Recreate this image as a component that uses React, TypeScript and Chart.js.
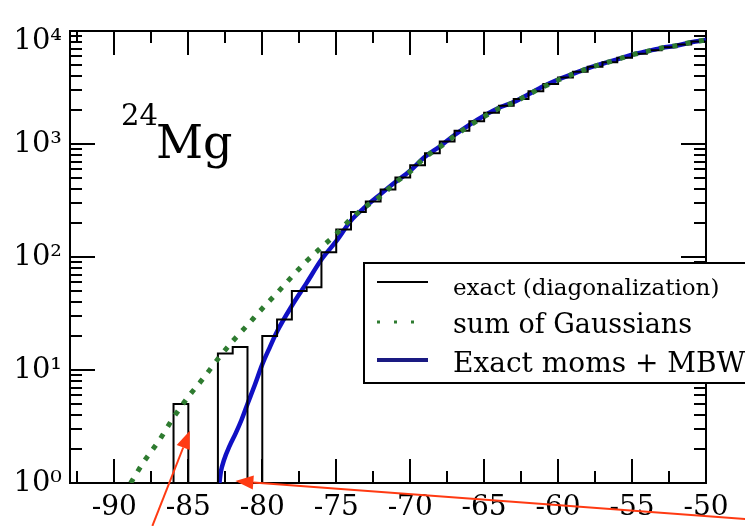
import React, { useEffect, useRef } from 'react';
import { Chart, registerables } from 'chart.js';

Chart.register(...registerables);

// ---- axes ----
const xMin = -93;
const xMax = -50;
const yMin = 1;
const yMax = 10000;
const xTickValues = [-90, -85, -80, -75, -70, -65, -60, -55, -50];
const yTickValues = [1, 10, 100, 1000, 10000];
const yTickLabels = ['10⁰', '10¹', '10²', '10³', '10⁴'];

// ---- exact (diagonalization): histogram, 1 MeV bins (left edges) ----
const histBinLeft = [
  -87, -86, -85, -84, -83, -82, -81, -80, -79, -78, -77, -76, -75, -74, -73, -72, -71, -70,
  -69, -68, -67, -66, -65, -64, -63, -62, -61, -60, -59, -58, -57, -56, -55, -54, -53, -52, -51,
];
const histCounts = [
  0, 5, 0, 0, 14, 16, 0, 20, 28, 50, 54, 110, 175, 250, 310, 395, 505, 650,
  830, 1050, 1310, 1590, 1890, 2180, 2500, 2930, 3400, 3880, 4350, 4830, 5300, 5800, 6300, 6760, 7180, 7600, 8060,
];
const histBinWidth = 1;

// ---- sum of Gaussians ----
const gaussX = [
  -88.9, -88, -87, -86, -85, -84, -83, -82, -81, -80, -79, -78, -77, -76, -75, -74, -73, -72, -71, -70,
  -69, -68, -67, -66, -65, -64, -63, -62, -61, -60, -59, -58, -57, -56, -55, -54, -53, -52, -51, -50,
];
const gaussY = [
  1.0, 1.55, 2.35, 3.8, 5.8, 8.4, 12.5, 18, 25, 35, 48, 67, 92, 122, 160, 218, 280, 345, 455, 570,
  760, 940, 1180, 1450, 1750, 2060, 2330, 2740, 3200, 3680, 4150, 4660, 5120, 5600, 6150, 6600, 7080, 7420, 7950, 8320,
];

// ---- Exact moms + MBW ----
const mbwX = [
  -82.9, -82.8, -82.6, -82.2, -81.8, -81.4, -81.0, -80.5, -80.0, -79.5, -79.0, -78.0, -77.0, -76.0,
  -75.0, -74.0, -73.0, -72.0, -71.0, -70.0, -69.0, -68.0, -67.0, -66.0, -65.0, -64.0, -63.0, -62.0, -61.0,
  -60.0, -59.0, -58.0, -57.0, -56.0, -55.0, -54.0, -53.0, -52.0, -51.0, -50.0,
];
const mbwY = [
  1.0, 1.26, 1.58, 2.14, 2.75, 3.63, 5.0, 7.4, 11.2, 15.8, 21.9, 37, 59, 95,
  138, 210, 280, 360, 460, 580, 770, 950, 1200, 1480, 1780, 2090, 2350, 2750, 3240,
  3720, 4170, 4680, 5130, 5620, 6170, 6610, 7080, 7410, 7940, 8320,
];

// ---- legend / annotations ----
const legendLabels = ['exact (diagonalization)', 'sum of Gaussians', 'Exact moms + MBW'];
const nucleusMass = '24';
const nucleusName = 'Mg';
// arrows in data coordinates
const arrowFromX = [-87.43, -47.36];
const arrowFromY = [0.417, 0.481];
const arrowToX = [-84.9, -81.82];
const arrowToY = [2.9, 1.04];

const BLACK = '#000000';
const GREEN = '#2e7b30';
const BLUE = '#1010c4';
const LEGEND_BLUE = '#1a1a82';
const RED = '#ff3a12';
const SERIF = '"DejaVu Serif", serif';

const framePlugin = {
  id: 'frameTicks',
  beforeDatasetsDraw(chart: any) {
    const { ctx, chartArea: a, scales } = chart;
    const x = scales.x;
    const y = scales.y;
    ctx.save();
    ctx.strokeStyle = BLACK;
    ctx.lineWidth = 2;
    ctx.lineCap = 'butt';
    ctx.strokeRect(a.left, a.top, a.right - a.left, a.bottom - a.top);
    ctx.beginPath();
    for (let v = -92.5; v <= xMax + 1e-6; v += 2.5) {
      const px = Math.round(x.getPixelForValue(v));
      const major = Math.abs(v % 5) < 1e-6;
      const len = major ? 24 : 12;
      ctx.moveTo(px, a.bottom);
      ctx.lineTo(px, a.bottom - len);
      ctx.moveTo(px, a.top);
      ctx.lineTo(px, a.top + len);
    }
    for (let d = 0; d < 4; d++) {
      for (let m = 1; m < 10; m++) {
        const v = m * Math.pow(10, d);
        const py = Math.round(y.getPixelForValue(v));
        const len = m === 1 ? 25 : 12;
        ctx.moveTo(a.left, py);
        ctx.lineTo(a.left + len, py);
        ctx.moveTo(a.right, py);
        ctx.lineTo(a.right - len, py);
      }
    }
    ctx.stroke();
    ctx.restore();
  },
};

const annotationPlugin = {
  id: 'annotations',
  afterDraw(chart: any) {
    const { ctx, chartArea: a, scales } = chart;
    const x = scales.x;
    const y = scales.y;
    ctx.save();

    // nucleus label
    ctx.fillStyle = BLACK;
    ctx.textBaseline = 'alphabetic';
    ctx.textAlign = 'left';
    ctx.font = `29px ${SERIF}`;
    ctx.fillText(nucleusMass, a.left + 51, a.top + 94);
    ctx.font = `46px ${SERIF}`;
    ctx.fillText(nucleusName, a.left + 86, a.top + 127);

    // legend box
    const lx = a.left + 294;
    const ly = a.top + 232;
    const lw = 420;
    const lh = 120;
    ctx.fillStyle = '#ffffff';
    ctx.fillRect(lx, ly, lw, lh);
    ctx.strokeStyle = BLACK;
    ctx.lineWidth = 2;
    ctx.strokeRect(lx, ly, lw, lh);

    const sx0 = lx + 13;
    const sx1 = lx + 64;
    const tx = lx + 89;
    // entry 1
    ctx.beginPath();
    ctx.lineWidth = 2;
    ctx.strokeStyle = BLACK;
    ctx.moveTo(sx0, ly + 19);
    ctx.lineTo(sx1, ly + 19);
    ctx.stroke();
    // entry 2
    ctx.beginPath();
    ctx.lineWidth = 3;
    ctx.strokeStyle = GREEN;
    ctx.setLineDash([3, 14]);
    ctx.moveTo(sx0, ly + 59);
    ctx.lineTo(sx1, ly + 59);
    ctx.stroke();
    ctx.setLineDash([]);
    // entry 3
    ctx.beginPath();
    ctx.lineWidth = 4;
    ctx.strokeStyle = LEGEND_BLUE;
    ctx.moveTo(sx0, ly + 97);
    ctx.lineTo(sx1, ly + 97);
    ctx.stroke();

    ctx.fillStyle = BLACK;
    ctx.font = `23px ${SERIF}`;
    ctx.fillText(legendLabels[0], tx, ly + 32);
    ctx.font = `27px ${SERIF}`;
    ctx.fillText(legendLabels[1], tx, ly + 70);
    ctx.font = `28px ${SERIF}`;
    ctx.fillText(legendLabels[2], tx, ly + 109);

    // arrows
    ctx.strokeStyle = RED;
    ctx.fillStyle = RED;
    ctx.lineWidth = 2;
    for (let i = 0; i < arrowFromX.length; i++) {
      const x0 = x.getPixelForValue(arrowFromX[i]);
      const y0 = y.getPixelForValue(arrowFromY[i]);
      const x1 = x.getPixelForValue(arrowToX[i]);
      const y1 = y.getPixelForValue(arrowToY[i]);
      const ang = Math.atan2(y1 - y0, x1 - x0);
      const headLen = 18;
      const headW = 7;
      const bx = x1 - headLen * Math.cos(ang);
      const by = y1 - headLen * Math.sin(ang);
      ctx.beginPath();
      ctx.moveTo(x0, y0);
      ctx.lineTo(bx, by);
      ctx.stroke();
      ctx.beginPath();
      ctx.moveTo(x1, y1);
      ctx.lineTo(bx + headW * Math.sin(ang), by - headW * Math.cos(ang));
      ctx.lineTo(bx - headW * Math.sin(ang), by + headW * Math.cos(ang));
      ctx.closePath();
      ctx.fill();
    }
    ctx.restore();
  },
};

export default function App() {
  const canvasRef = useRef<HTMLCanvasElement | null>(null);

  useEffect(() => {
    if (!canvasRef.current) return;

    const histPoints = histBinLeft.map((b, i) => ({ x: b, y: Math.max(histCounts[i], yMin) }));
    const lastIdx = histBinLeft.length - 1;
    histPoints.push({ x: histBinLeft[lastIdx] + histBinWidth, y: Math.max(histCounts[lastIdx], yMin) });

    const chart = new Chart(canvasRef.current, {
      type: 'line',
      data: {
        datasets: [
          {
            label: legendLabels[0],
            data: histPoints,
            stepped: true,
            borderColor: BLACK,
            borderWidth: 2,
            pointRadius: 0,
            fill: false,
            order: 2,
          },
          {
            label: legendLabels[1],
            data: gaussX.map((v, i) => ({ x: v, y: gaussY[i] })),
            borderColor: GREEN,
            borderWidth: 5,
            borderDash: [5, 8.5],
            borderCapStyle: 'butt',
            cubicInterpolationMode: 'monotone',
            pointRadius: 0,
            fill: false,
            order: 1,
          },
          {
            label: legendLabels[2],
            data: mbwX.map((v, i) => ({ x: v, y: mbwY[i] })),
            borderColor: BLUE,
            borderWidth: 4.5,
            cubicInterpolationMode: 'monotone',
            pointRadius: 0,
            fill: false,
            order: 3,
          },
        ],
      },
      options: {
        animation: false,
        responsive: false,
        maintainAspectRatio: false,
        layout: { padding: { left: 0, right: 39, top: 31, bottom: 0 } },
        plugins: {
          legend: { display: false },
          tooltip: { enabled: false },
        },
        scales: {
          x: {
            type: 'linear',
            min: xMin,
            max: xMax,
            grid: { display: false, drawTicks: false },
            border: { display: false },
            afterBuildTicks: (scale: any) => {
              scale.ticks = xTickValues.map((v) => ({ value: v }));
            },
            afterFit: (scale: any) => {
              scale.height = 43;
              scale.paddingLeft = 0;
              scale.paddingRight = 0;
            },
            ticks: {
              autoSkip: false,
              maxRotation: 0,
              padding: 8,
              color: BLACK,
              font: { family: SERIF, size: 28 },
              callback: (v: any) => String(v),
            },
          },
          y: {
            type: 'logarithmic',
            min: yMin,
            max: yMax,
            grid: { display: false, drawTicks: false },
            border: { display: false },
            afterBuildTicks: (scale: any) => {
              scale.ticks = yTickValues.map((v) => ({ value: v }));
            },
            afterFit: (scale: any) => {
              scale.width = 70;
              scale.paddingTop = 0;
              scale.paddingBottom = 0;
            },
            ticks: {
              autoSkip: false,
              padding: 8,
              color: BLACK,
              font: { family: SERIF, size: 29, lineHeight: 0.75 },
              callback: (v: any) => {
                const i = yTickValues.indexOf(Number(v));
                if (i < 0) return null;
                return i === yTickValues.length - 1 ? ['', yTickLabels[i]] : yTickLabels[i];
              },
            },
          },
        },
      },
      plugins: [framePlugin, annotationPlugin],
    } as any);

    return () => {
      chart.destroy();
    };
  }, []);

  return (
    <div style={{ position: 'absolute', left: 0, top: 0, width: 745, height: 526, background: '#ffffff' }}>
      <canvas ref={canvasRef} width={745} height={526} style={{ display: 'block' }} />
    </div>
  );
}
